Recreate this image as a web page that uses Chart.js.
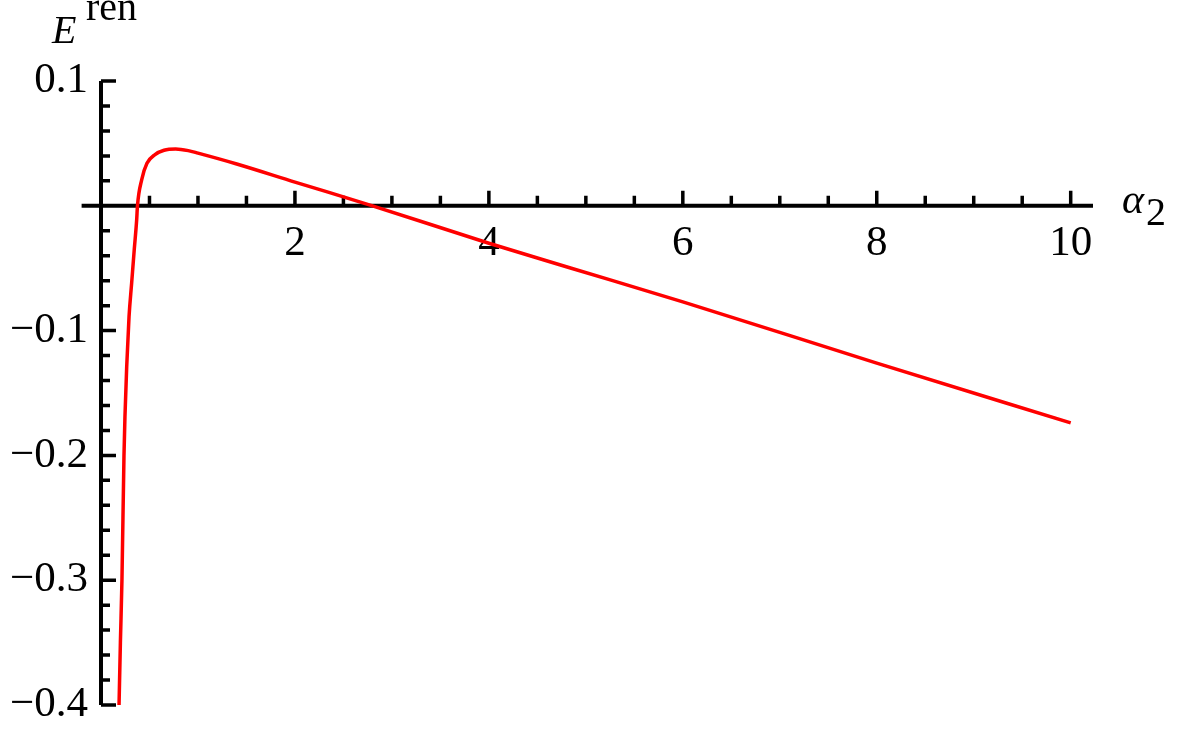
<!DOCTYPE html>
<html>
<head>
<meta charset="utf-8">
<script src="https://cdn.jsdelivr.net/npm/chart.js@4.4.1/dist/chart.umd.min.js"></script>
<style>
  html, body { margin: 0; padding: 0; background: #fff; }
  #wrap { width: 1177px; height: 733px; position: relative; }
</style>
</head>
<body>
<div id="wrap"><canvas id="chart"></canvas></div>
<script>
// --- data ---
const alphaValues  = [0.186, 0.20, 0.216, 0.237, 0.247, 0.265, 0.289, 0.316, 0.343, 0.368, 0.376,
                      0.42, 0.474, 0.557, 0.65, 0.77, 0.9, 1.0, 1.4, 2.0, 2.8, 4.0, 4.85, 6.0, 8.0, 10.0];
const energyValues = [-0.40, -0.35, -0.30, -0.20, -0.169, -0.129, -0.089, -0.062, -0.035, -0.011, 0.0,
                      0.021, 0.034, 0.041, 0.0445, 0.0455, 0.0442, 0.0422, 0.0335, 0.019, 0.0, -0.030, -0.050, -0.077, -0.126, -0.174];

const xMajorTicks = [2, 4, 6, 8, 10];
const xTickLabels = ['2', '4', '6', '8', '10'];
const yMajorTicks = [0.1, -0.1, -0.2, -0.3, -0.4];
const yTickLabels = ['0.1', '\u22120.1', '\u22120.2', '\u22120.3', '\u22120.4'];

const xMinorStep = 0.5;
const yMinorStep = 0.02;
const xRange = [0, 10.23];
const yRange = [-0.4, 0.1];
const xAxisFrom = -0.2;

const serif = "'Liberation Serif', 'DejaVu Serif', serif";

function stepTicks(min, max, step) {
    const out = [];
    const n = Math.round((max - min) / step);
    for (let i = 0; i <= n; i++) {
        const v = Math.round((min + i * step) * 1000) / 1000;
        if (v !== 0) out.push({ value: v });
    }
    return out;
}

function labelFor(majors, labels) {
    return (value) => {
        const i = majors.findIndex(m => Math.abs(m - value) < 1e-6);
        return i >= 0 ? labels[i] : '';
    };
}

function isMajor(majors, value) {
    return majors.some(m => Math.abs(m - value) < 1e-6);
}

// axis lines and Mathematica-style ticks (inside the plot)
const axesPlugin = {
    id: 'axesPlugin',
    beforeDatasetsDraw(chart) {
        const { ctx, chartArea, scales: { x, y } } = chart;
        const x0 = x.getPixelForValue(0);
        const y0 = y.getPixelForValue(0);
        ctx.save();
        ctx.strokeStyle = '#000';
        ctx.lineWidth = 4;
        ctx.lineCap = 'butt';
        ctx.beginPath();
        ctx.moveTo(x.getPixelForValue(xAxisFrom), y0);
        ctx.lineTo(chartArea.right, y0);
        ctx.moveTo(x0, chartArea.top);
        ctx.lineTo(x0, chartArea.bottom);
        ctx.stroke();

        ctx.lineWidth = 3.5;
        ctx.beginPath();
        x.ticks.forEach(t => {
            const px = x.getPixelForValue(t.value);
            const len = isMajor(xMajorTicks, t.value) ? 15 : 10;
            ctx.moveTo(px, y0);
            ctx.lineTo(px, y0 - len);
        });
        y.ticks.forEach(t => {
            const py = y.getPixelForValue(t.value);
            const len = isMajor(yMajorTicks, t.value) ? 15 : 9;
            ctx.moveTo(x0, py);
            ctx.lineTo(x0 + len, py);
        });
        ctx.stroke();
        ctx.restore();
    },
    afterDraw(chart) {
        const { ctx, chartArea, scales: { x, y } } = chart;
        const x0 = x.getPixelForValue(0);
        const y0 = y.getPixelForValue(0);
        ctx.save();
        ctx.fillStyle = '#000';
        ctx.textBaseline = 'alphabetic';
        ctx.textAlign = 'left';
        // E^ren
        ctx.font = `italic 40px ${serif}`;
        ctx.fillText('E', x0 - 49, chartArea.top - 38);
        ctx.font = `40px ${serif}`;
        ctx.fillText('ren', x0 - 15, chartArea.top - 61);
        // alpha_2
        ctx.font = `italic 42px ${serif}`;
        ctx.fillText('\u03b1', chartArea.right + 29, y0 + 7);
        ctx.font = `40px ${serif}`;
        ctx.fillText('2', chartArea.right + 53, y0 + 19);
        ctx.restore();
    }
};

document.addEventListener('DOMContentLoaded', () => {
    const ctx = document.getElementById('chart').getContext('2d');
    new Chart(ctx, {
        type: 'line',
        data: {
            datasets: [{
                data: alphaValues.map((a, i) => ({ x: a, y: energyValues[i] })),
                borderColor: '#ff0000',
                borderWidth: 3.5,
                pointRadius: 0,
                fill: false,
                cubicInterpolationMode: 'monotone'
            }]
        },
        options: {
            responsive: true,
            maintainAspectRatio: false,
            animation: false,
            layout: { padding: { top: 81, right: 84, bottom: 28, left: 0 } },
            plugins: { legend: { display: false }, tooltip: { enabled: false } },
            scales: {
                x: {
                    type: 'linear',
                    position: { y: 0 },
                    min: xRange[0],
                    max: xRange[1],
                    afterBuildTicks: s => { s.ticks = stepTicks(xMinorStep, 10, xMinorStep); },
                    grid: { display: false, drawTicks: false },
                    border: { display: false },
                    ticks: {
                        autoSkip: false,
                        maxRotation: 0,
                        padding: 12,
                        color: '#000',
                        font: { family: serif, size: 43 },
                        callback: labelFor(xMajorTicks, xTickLabels)
                    }
                },
                y: {
                    type: 'linear',
                    position: 'left',
                    min: yRange[0],
                    max: yRange[1],
                    afterBuildTicks: s => { s.ticks = stepTicks(yRange[0], yRange[1], yMinorStep); },
                    afterFit: s => { s.width = 101; s.paddingTop = 0; s.paddingBottom = 0; },
                    grid: { display: false, drawTicks: false },
                    border: { display: false },
                    ticks: {
                        autoSkip: false,
                        padding: 13,
                        color: '#000',
                        font: { family: serif, size: 43 },
                        callback: labelFor(yMajorTicks, yTickLabels)
                    }
                }
            }
        },
        plugins: [axesPlugin]
    });
});
</script>
</body>
</html>
